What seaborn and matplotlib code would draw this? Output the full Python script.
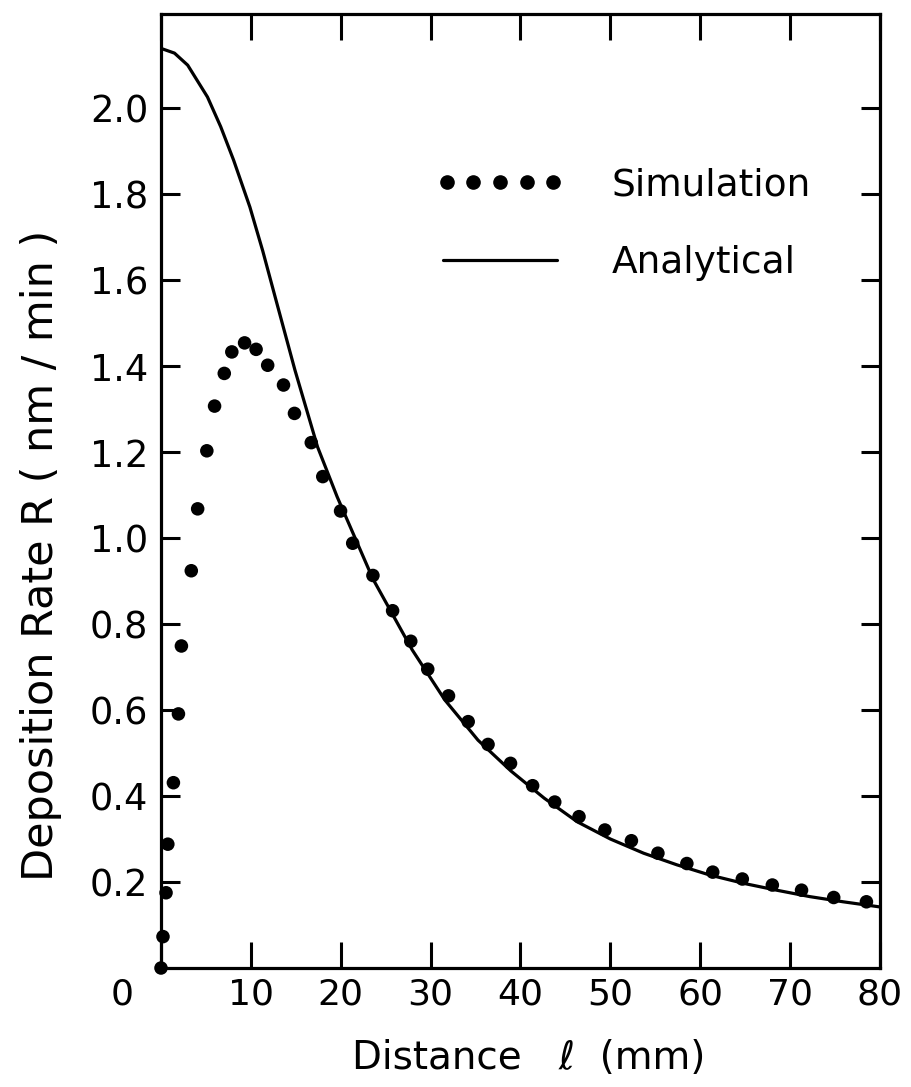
import numpy as np
import pandas as pd
import matplotlib
matplotlib.use("Agg")
import matplotlib.pyplot as plt
import seaborn as sns
from matplotlib.lines import Line2D
from matplotlib.legend_handler import HandlerLine2D
from matplotlib.transforms import ScaledTranslation
from matplotlib import font_manager

# ---------------- data ----------------
sim_x = [0.0, 0.22, 0.56, 0.76, 1.38, 1.94, 2.27, 3.37, 4.08, 5.1, 5.96, 7.04, 7.88,
         9.3, 10.58, 11.87, 13.63, 14.85, 16.72, 18.0, 19.98, 21.33, 23.58, 25.77,
         27.79, 29.68, 31.99, 34.18, 36.39, 38.89, 41.35, 43.81, 46.51, 49.39, 52.34,
         55.29, 58.51, 61.39, 64.68, 68.02, 71.27, 74.85, 78.49]
sim_y = [0.0, 0.073, 0.175, 0.288, 0.431, 0.591, 0.749, 0.924, 1.068, 1.203, 1.307,
         1.383, 1.433, 1.454, 1.439, 1.402, 1.356, 1.29, 1.222, 1.143, 1.063, 0.988,
         0.913, 0.831, 0.760, 0.695, 0.633, 0.573, 0.520, 0.476, 0.424, 0.386, 0.352,
         0.321, 0.296, 0.267, 0.243, 0.223, 0.207, 0.193, 0.181, 0.164, 0.154]

ana_x = [0.0, 1.5, 2.97, 5.17, 6.64, 8.08, 9.89, 11.32, 12.75, 14.9, 17.42, 19.6,
         23.58, 27.95, 31.6, 35.27, 38.95, 42.64, 46.32, 50.0, 53.7, 57.4, 61.1,
         64.8, 68.5, 72.2, 75.9, 80.0]
ana_y = [2.139, 2.128, 2.100, 2.026, 1.957, 1.879, 1.77, 1.668, 1.557, 1.391, 1.212,
         1.096, 0.905, 0.740, 0.623, 0.530, 0.458, 0.395, 0.340, 0.300, 0.267, 0.240,
         0.216, 0.197, 0.181, 0.166, 0.154, 0.142]

x_ticks = [0, 10, 20, 30, 40, 50, 60, 70, 80]
x_ticklabels = ["0", "10", "20", "30", "40", "50", "60", "70", "80"]
y_ticks = [0.2, 0.4, 0.6, 0.8, 1.0, 1.2, 1.4, 1.6, 1.8, 2.0]
y_ticklabels = ["0.2", "0.4", "0.6", "0.8", "1.0", "1.2", "1.4", "1.6", "1.8", "2.0"]

labels = ["Simulation", "Analytical"]
x_label = "Distance   ℓ  (mm)"
y_label = "Deposition Rate R ( nm / min )"

# ---------------- style ----------------
sns.set_style("ticks")
plt.rcParams["font.family"] = ["DejaVu Sans"]
for key in ["text.color", "axes.labelcolor", "xtick.color", "ytick.color", "axes.edgecolor"]:
    plt.rcParams[key] = "black"
names = {f.name for f in font_manager.fontManager.ttflist}
narrow = "Liberation Sans Narrow" if "Liberation Sans Narrow" in names else "DejaVu Sans"
xtick_size = 30 if narrow != "DejaVu Sans" else 26

fig = plt.figure(figsize=(9.12, 10.87), dpi=100)
ax = fig.add_axes([161 / 912, 1 - 968 / 1087, 719 / 912, 954 / 1087])

sim_df = pd.DataFrame({"x": sim_x, "y": sim_y})
ana_df = pd.DataFrame({"x": ana_x, "y": ana_y})

sns.lineplot(data=ana_df, x="x", y="y", color="black", linewidth=2.3,
             sort=False, estimator=None, ax=ax, zorder=2)
sns.scatterplot(data=sim_df, x="x", y="y", color="black", s=95, edgecolor="none",
                linewidth=0, ax=ax, zorder=3, clip_on=False)

ax.set_xlim(0, 80)
ax.set_ylim(0, 2.219)

ax.set_xticks(x_ticks)
ax.set_xticklabels(x_ticklabels, fontfamily=narrow, fontsize=xtick_size)
ax.set_yticks(y_ticks)
ax.set_yticklabels(y_ticklabels, fontsize=26.5)

ax.tick_params(axis="x", which="major", direction="in", length=19, width=2.2,
               top=True, bottom=True, pad=7, colors="black")
ax.tick_params(axis="y", which="major", direction="in", length=14, width=2.2,
               left=True, right=True, pad=9, colors="black")
for sp in ax.spines.values():
    sp.set_visible(True)
    sp.set_linewidth(2.3)
    sp.set_color("black")

# shift the "0" label left as in the reference
lbl0 = ax.get_xticklabels()[0]
lbl0.set_transform(lbl0.get_transform() + ScaledTranslation(-39 / 100, 0, fig.dpi_scale_trans))

ax.set_xlabel(x_label, fontsize=28, color="black")
ax.set_ylabel(y_label, fontsize=31, color="black")
ax.xaxis.set_label_coords(0.512, -0.0744)
ax.yaxis.set_label_coords(-0.1377, 0.433)

h_sim = Line2D([], [], linestyle="none", marker="o", markersize=9.5,
               markerfacecolor="black", markeredgecolor="black")
h_ana = Line2D([], [], color="black", linewidth=2.3)
leg = ax.legend([h_sim, h_ana], labels,
                handler_map={h_sim: HandlerLine2D(marker_pad=0.1, numpoints=5)},
                loc="upper left", bbox_to_anchor=(443 / 912, 1 - 167 / 1087),
                bbox_transform=fig.transFigure, frameon=False, fontsize=27,
                handlelength=3.04, handletextpad=1.45, labelspacing=1.12,
                borderpad=0, borderaxespad=0, labelcolor="black")

fig.savefig("out.png", dpi=100)
